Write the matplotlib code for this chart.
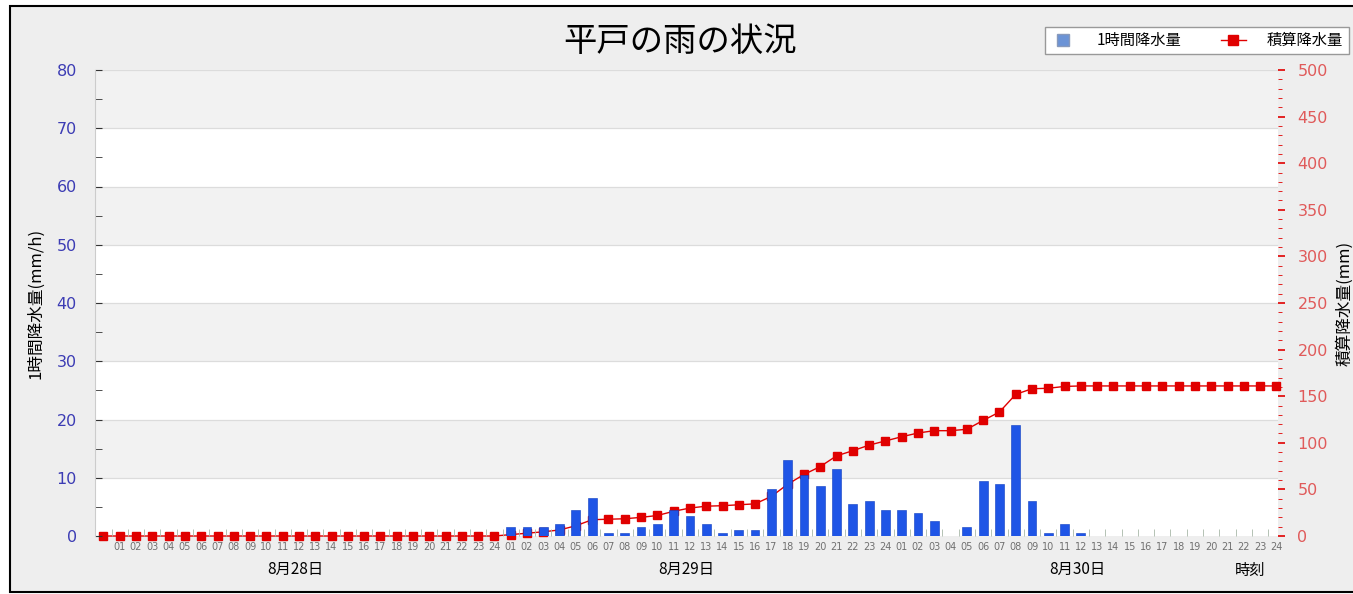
"""Hirado rainfall chart: hourly bars (left axis) + cumulative line (right axis)."""

import matplotlib
matplotlib.use("Agg")
import matplotlib.pyplot as plt
import matplotlib.transforms as mtransforms
from matplotlib.lines import Line2D
from matplotlib.patches import Rectangle
import numpy as np

plt.rcParams["font.family"] = ["Noto Sans CJK JP", "DejaVu Sans"]

# ---- data ----
title = "平戸の雨の状況"
days = ["8月28日", "8月29日", "8月30日"]
hour_labels = [f"{h:02d}" for h in range(1, 25)] * 3

# 1-hour rainfall (mm/h), 8/28 01 .. 8/30 24
hourly = [
    0, 0, 0, 0, 0, 0, 0, 0, 0, 0, 0, 0, 0, 0, 0, 0, 0, 0, 0, 0, 0, 0, 0, 0,
    1.5, 1.5, 1.5, 2.0, 4.5, 6.5, 0.5, 0.5, 1.5, 2.0, 4.5, 3.5,
    2.0, 0.5, 1.0, 1.0, 8.0, 13.0, 10.5, 8.5, 11.5, 5.5, 6.0, 4.5,
    4.5, 4.0, 2.5, 0, 1.5, 9.5, 9.0, 19.0, 6.0, 0.5, 2.0, 0.5,
    0, 0, 0, 0, 0, 0, 0, 0, 0, 0, 0, 0,
]
# cumulative rainfall (mm), 8/28 00 .. 8/30 24
cumulative = [
    0,
    0, 0, 0, 0, 0, 0, 0, 0, 0, 0, 0, 0, 0, 0, 0, 0, 0, 0, 0, 0, 0, 0, 0, 0,
    1.5, 3.0, 4.5, 6.5, 11.0, 17.5, 18.0, 18.5, 20.0, 22.0, 26.5, 30.0,
    32.0, 32.5, 33.5, 34.5, 42.5, 55.5, 66.0, 74.5, 86.0, 91.5, 97.5, 102.0,
    106.5, 110.5, 113.0, 113.0, 114.5, 124.0, 133.0, 152.0, 158.0, 158.5, 160.5, 161.0,
    161, 161, 161, 161, 161, 161, 161, 161, 161, 161, 161, 161,
]

BAR_BLUE = "#1f55e6"
LINE_RED = "#e00000"
LEFT_TXT = "#3c3cb4"
RIGHT_TXT = "#e05a5a"

x_bar = np.arange(len(hourly))
x_cum = np.arange(-1, len(cumulative) - 1)

fig = plt.figure(figsize=(13.53, 5.94), dpi=100, facecolor="white")
# grey panel with black frame
fig.add_artist(Rectangle((10 / 1353, 2 / 594), 1.0, 586 / 594, transform=fig.transFigure,
                         facecolor="#eeeeee", edgecolor="black", linewidth=1.5, zorder=-1))

ax = fig.add_axes([95 / 1353, 1 - 536 / 594, (1278 - 95) / 1353, (536 - 70) / 594])
ax2 = ax.twinx()
# line axes below, bar axes on top so bars cover the line
ax.set_zorder(ax2.get_zorder() + 1)
ax.patch.set_visible(False)
ax2.patch.set_visible(True)
ax2.patch.set_facecolor("white")

ax.set_xlim(-1.52, 71.1)
ax.set_ylim(0, 80)
ax2.set_ylim(0, 500)

# alternating bands + grid, drawn on the lower axes in left-axis units
band_tf = mtransforms.blended_transform_factory(ax2.transAxes, ax.transData)
for lo in (10, 30, 50, 70):
    ax2.add_patch(Rectangle((0, lo), 1, 10, transform=band_tf, facecolor="#f2f2f2",
                            edgecolor="none", zorder=0))
for y in range(10, 81, 10):
    ax2.add_line(Line2D([0, 1], [y, y], transform=band_tf, color="#dcdcdc", lw=0.9, zorder=0.5))

ax2.plot(x_cum, cumulative, color=LINE_RED, lw=1.0, marker="s", markersize=5.6,
         markeredgecolor=LINE_RED, clip_on=False, zorder=3)

ax.bar(x_bar, hourly, width=0.54, color=BAR_BLUE, edgecolor="#0b3cc0", linewidth=0.4, zorder=3)

for a in (ax, ax2):
    for s in a.spines.values():
        s.set_visible(False)
ax.spines["left"].set_visible(True)
ax.spines["left"].set_color("#cccccc")

# left axis
ax.set_yticks(np.arange(0, 81, 10))
ax.set_yticks(np.arange(5, 80, 10), minor=True)
ax.tick_params(axis="y", which="both", direction="in", length=5, color="#333333",
               labelcolor=LEFT_TXT, labelsize=11.5, pad=13)
for t in ax.get_yticklabels():
    t.set_family("DejaVu Sans")
ax.set_ylabel("1時間降水量(mm/h)", fontsize=12, labelpad=9)

# right axis
ax2.set_yticks(np.arange(0, 501, 50))
ax2.set_yticks(np.arange(0, 501, 10), minor=True)
ax2.tick_params(axis="y", which="major", direction="out", length=5, width=1.2, color=LINE_RED,
                labelcolor=RIGHT_TXT, labelsize=11.5, pad=9)
ax2.tick_params(axis="y", which="minor", direction="out", length=3, color=LINE_RED)
for t in ax2.get_yticklabels():
    t.set_family("DejaVu Sans")
ax2.set_ylabel("積算降水量(mm)", fontsize=12, labelpad=6)

# x axis: hour labels under bars, short grey ticks at slot boundaries
ax.set_xticks(x_bar)
ax.set_xticklabels(hour_labels, fontsize=7, color="#707070", family="DejaVu Sans")
ax.set_xticks(np.arange(-0.5, 71, 1), minor=True)
ax.tick_params(axis="x", which="major", length=0, pad=4)
ax.tick_params(axis="x", which="minor", direction="in", length=5, color="#a8b8a8")

xt = ax.get_xaxis_transform()
for i, d in enumerate(days):
    ax.text(i * 24 + 10.8, -0.071, d, transform=xt, ha="center", va="center", fontsize=11)
ax.text(69.4, -0.073, "時刻", transform=xt, ha="center", va="center", fontsize=11)

fig.text(680 / 1353, 1 - 42 / 594, title, ha="center", va="center", fontsize=24)

handles = [
    Line2D([], [], linestyle="none", marker="s", markersize=9, markerfacecolor="#6b93d6",
           markeredgecolor="#8899bb"),
    Line2D([], [], color=LINE_RED, lw=1.0, marker="s", markersize=7),
]
fig.legend(handles, ["1時間降水量", "積算降水量"], loc="center",
           bbox_to_anchor=(1197 / 1353, 1 - 40.5 / 594), ncol=2, fontsize=11,
           frameon=True, fancybox=False, edgecolor="#999999", facecolor="white",
           handlelength=1.6, handletextpad=1.4, columnspacing=2.6,
           borderpad=0.35, framealpha=1)

fig.savefig("out.png", dpi=100)
